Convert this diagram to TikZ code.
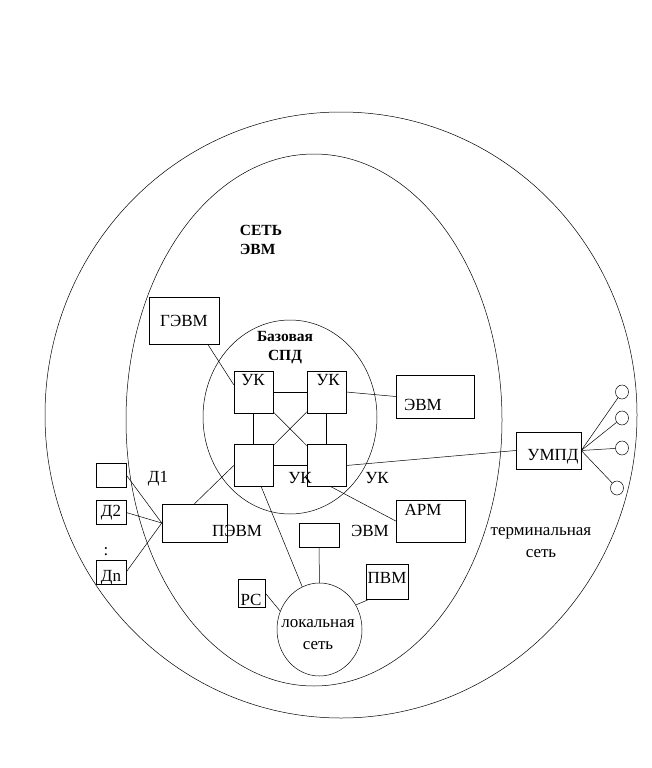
\documentclass[tikz,border=0pt]{standalone}
\usepackage{fontspec}
\setmainfont{Liberation Serif}
\usetikzlibrary{shapes.geometric}
\begin{document}
\begin{tikzpicture}[x=1pt,y=-1pt,line width=.5pt,
	every node/.style={font=\fontsize{17}{22}\selectfont,inner sep=0pt},
	blk/.style={draw,minimum width=#1},
	head/.style={font=\fontsize{15.5}{19}\selectfont\bfseries,align=left}]
\useasboundingbox (0,0) rectangle (651,768);

\draw (341,415) ellipse [x radius=296, y radius=303];
\draw (314,420) ellipse [x radius=188, y radius=266];
\draw (290,417) ellipse [x radius=87, y radius=97];

\node[head] (net) at (261,240){СЕТЬ\\ЭВМ};
\node[head,align=center] (spd) at (285,348){Базовая\\СПД};

\foreach \n/\x/\y in {uk1/253.5/392,uk2/326.5/392,uk3/253.5/465.5,uk4/326.5/465.5}
{
	\node[blk=39,minimum height=42] (\n) at (\x,\y){};
}
\node (uk1t) at (253,380){УК};
\node (uk2t) at (328,380){УК};
\node (uk3t) at (300,478){УК};
\node (uk4t) at (377,478){УК};

\draw (uk1)--(uk2) (uk1)--(uk3) (uk2)--(uk4) (uk3)--(uk4);
\draw (uk1)--(uk4) (uk2)--(uk3);

\node[blk=70,minimum height=47] (gevm) at (184,320.5){ГЭВМ};
\node[blk=78,minimum height=43] (evm) at (435,396.5){};
\node (evmt) at (423,405){ЭВМ};
\node[blk=69,minimum height=42] (arm) at (430.5,521){};
\node (armt) at (423,510){АРМ};
\node (armt2) at (370,531){ЭВМ};
\node[blk=65,minimum height=37] (umpd) at (548.5,450.5){};
\node (umpdt) at (553,457){УМПД};
\node[blk=65,minimum height=38] (pevm) at (194.5,523){};
\node (pevmt) at (237,531){ПЭВМ};

\draw (gevm.-45)--(uk1.160);
\draw (uk2.east)--(evm.west);
\draw (uk4.-78)--(arm.west);
\draw (uk4.east)--(umpd.west);
\draw (uk3.west)--(pevm.north);

% terminals
\foreach \n/\x/\y in {t1/622/392,t2/622/418,t3/622/448,t4/617/488}
{
	\node[draw,ellipse,minimum width=13,minimum height=14] (\n) at (\x,\y){};
	\draw (umpd.east)--(\n);
}
\node[align=center] (term) at (541,543){терминальная\\сеть};

% D
\foreach \n/\y/\txt in {d1/475/,d2/512.5/Д2,dn/572/}
{
	\node[blk=30,minimum height=24] (\n) at (111,\y){\txt};
	\draw (\n.east)--(pevm.west);
}
\node (d1t) at (158,479){Д1};
\node (dnt) at (111,578){Дn};
\node (dots) at (106,552){:};

% local net
\node[draw,ellipse,minimum width=85,minimum height=93] (lan) at (319.5,629.5){};
\node[align=center] (lant) at (318,635){локальная\\сеть};
\node[blk=40,minimum height=24] (sbox) at (319,535){};
\node[blk=27,minimum height=28] (rs) at (251.5,593){};
\node (rst) at (251,600){РС};
\node[blk=42,minimum height=35] (pvm) at (387,581.5){};
\node (pvmt) at (387,578){ПВМ};

\draw (sbox.south)--(lan.north);
\draw (rs.east)--(lan.155);
\draw (pvm.-135)--(lan.34);
\draw (uk3.-70)--(lan.112);

\end{tikzpicture}
\end{document}
